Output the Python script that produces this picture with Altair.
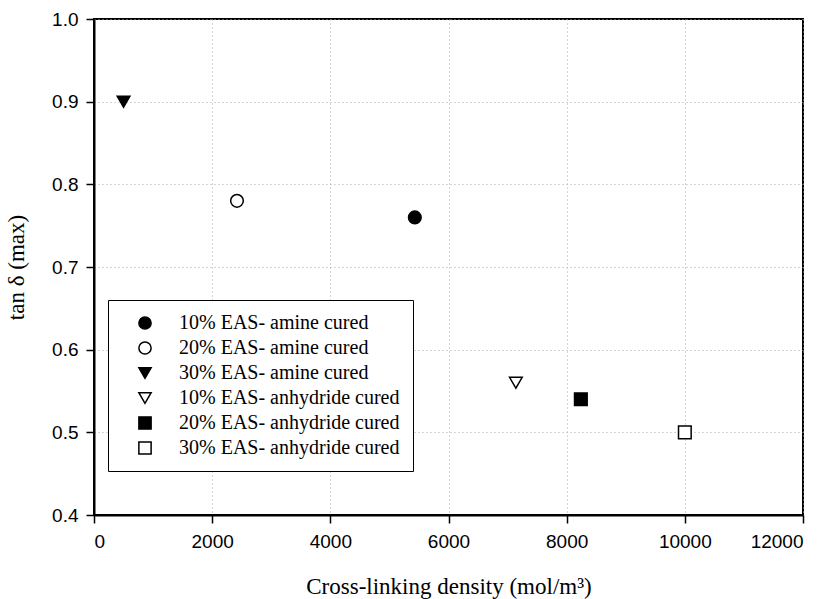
import altair as alt
import pandas as pd

series = ["10% EAS- amine cured", "20% EAS- amine cured", "30% EAS- amine cured",
          "10% EAS- anhydride cured", "20% EAS- anhydride cured", "30% EAS- anhydride cured"]
crosslink = [5430, 2420, 500, 7140, 8240, 10000]
tan_delta = [0.76, 0.78, 0.90, 0.56, 0.54, 0.50]
shapes = ["circle", "circle", "triangle-down", "triangle-down", "square", "square"]
fills = ["black", "white", "black", "white", "black", "white"]
strokes = ["black"] * 6
x_ticks = [0, 2000, 4000, 6000, 8000, 10000, 12000]
y_ticks = [0.4, 0.5, 0.6, 0.7, 0.8, 0.9, 1.0]

df = pd.DataFrame({"series": series, "x": crosslink, "y": tan_delta})

legend = alt.Legend(
    title=None, orient="none", legendX=14, legendY=281,
    strokeColor="black", fillColor="white", padding=13,
    labelFont="Liberation Serif", labelFontSize=20, labelColor="black",
    symbolSize=150, symbolStrokeColor="black", symbolStrokeWidth=1.5,
    rowPadding=5, symbolOffset=14, labelOffset=24, labelLimit=400,
)

chart = alt.Chart(df).mark_point(strokeWidth=1.5, opacity=1, size=160).encode(
    x=alt.X("x:Q", scale=alt.Scale(domain=[0, 12000], nice=False),
            axis=alt.Axis(values=x_ticks, format="d", title="Cross-linking density (mol/m³)")),
    y=alt.Y("y:Q", scale=alt.Scale(domain=[0.4, 1.0], nice=False, zero=False),
            axis=alt.Axis(values=y_ticks, format=".1f", title="tan δ (max)")),
    shape=alt.Shape("series:N", title=None, scale=alt.Scale(domain=series, range=shapes), legend=legend),
    fill=alt.Fill("series:N", title=None, scale=alt.Scale(domain=series, range=fills), legend=legend),
    stroke=alt.Stroke("series:N", title=None, scale=alt.Scale(domain=series, range=strokes), legend=legend),
).properties(
    width=709, height=496,
    autosize=alt.AutoSizeParams(type="none"),
    padding={"left": 94, "top": 19, "right": 29, "bottom": 84},
).configure_view(
    stroke="black", strokeWidth=2
).configure_axis(
    labelFont="Liberation Sans", labelFontSize=19, labelColor="black",
    titleFont="Liberation Serif", titleFontSize=23, titleFontWeight="normal", titleColor="black",
    tickColor="black", tickSize=8, tickWidth=1.5,
    domainColor="black", domainWidth=2,
    grid=True, gridColor="#aaaaaa", gridDash=[1, 3], gridWidth=1,
).configure_axisX(
    labelPadding=9, titlePadding=24
).configure_axisY(
    labelPadding=8, titlePadding=23
)

chart.save("out.html", embed_options={"renderer": "svg", "actions": False})
